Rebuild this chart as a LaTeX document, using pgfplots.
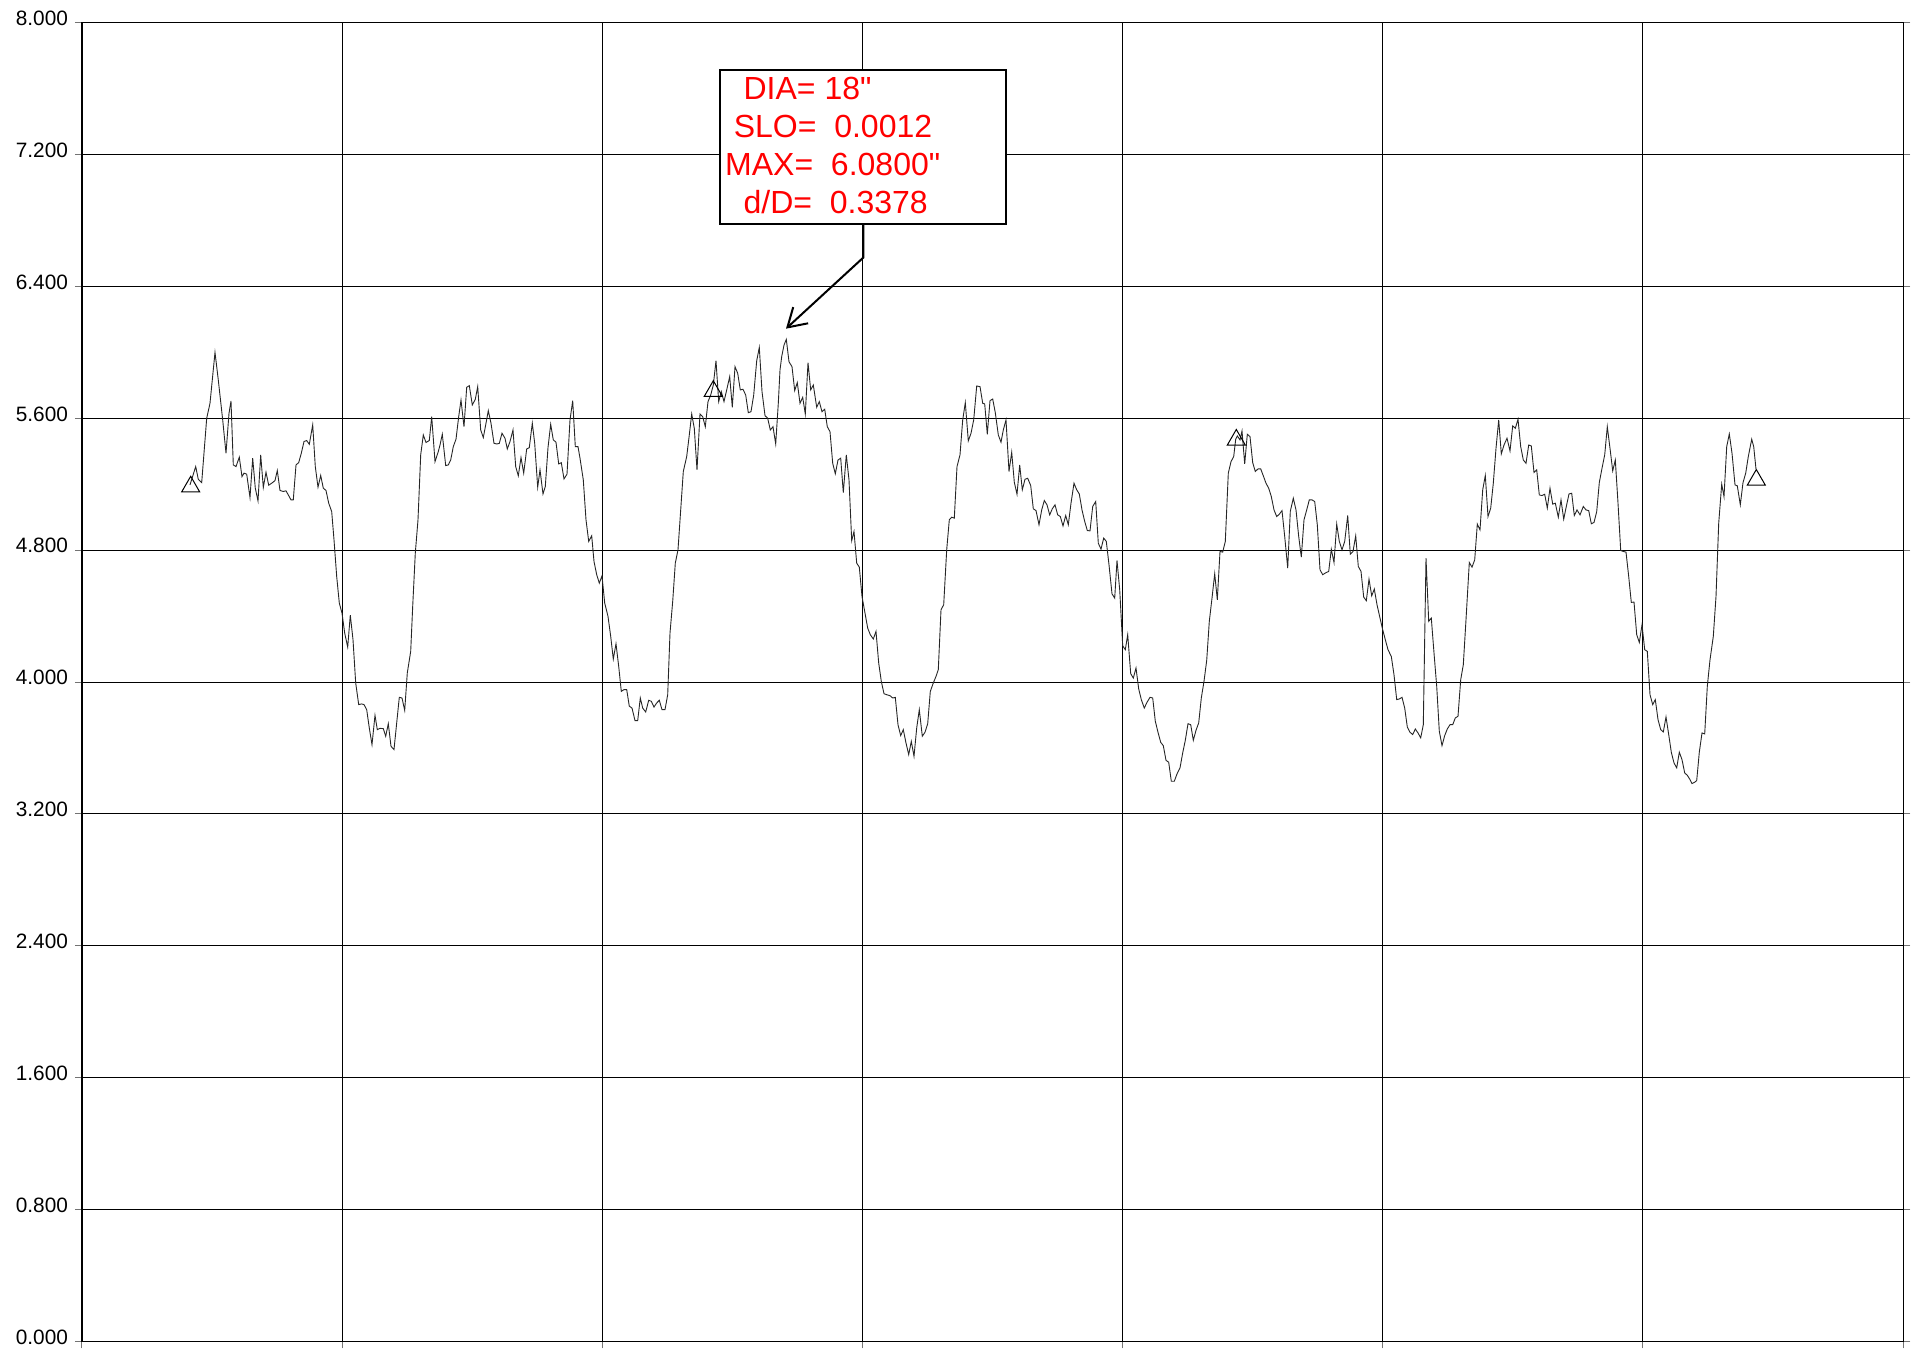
\documentclass[border=0pt]{standalone}
\usepackage{pgfplots}
\pgfplotsset{compat=1.18}
\usepackage{fontspec}
\setmainfont{Liberation Sans}[Ligatures=TeXOff]
\usetikzlibrary{arrows.meta}
\begin{document}
\begin{tikzpicture}
\path[use as bounding box] (-41pt,-7.35pt) rectangle (920.5pt,670.65pt);
\begin{axis}[
  scale only axis,
  width=910.65pt, height=659.3pt,
  xmin=82, xmax=1903.3, ymin=0, ymax=8,
  xtick={82,342.14,602.29,862.43,1122.57,1382.71,1642.86,1903.3},
  xticklabels={},
  ytick={0,0.8,1.6,2.4,3.2,4,4.8,5.6,6.4,7.2,8},
  grid=major,
  grid style={black, line width=0.5pt},
  axis line style={black, line width=0.6pt},
  tick align=outside,
  major tick length=3.5pt,
  xtick pos=bottom,
  ytick pos=both,
  tick style={black!55, line width=0.5pt},
  yticklabel pos=left,
  yticklabel style={font=\fontsize{10.4}{12}\selectfont, yshift=2.2pt},
  /pgf/number format/.cd, fixed, fixed zerofill, precision=3, assume math mode=true,
]
\addplot[black!85, line width=0.45pt] coordinates {
(190,5.196) (195.7,5.307) (198.3,5.230) (201.7,5.210) (206.7,5.600) (210,5.691) (215,6.000) (218.3,5.832) (222.7,5.590) (226,5.388) (229,5.630) (231,5.705) (233.3,5.317) (236,5.307) (239.3,5.364) (242,5.246) (244,5.267) (246.7,5.261) (250,5.119) (252.7,5.358) (255.3,5.176) (258,5.099) (260.7,5.378) (263.3,5.180) (266,5.273) (268.7,5.194) (271.7,5.206) (275,5.222) (277.3,5.283) (280,5.162) (283.3,5.156) (286,5.160) (288.3,5.135) (291,5.105) (293.3,5.105) (296,5.317) (298.7,5.331) (301.3,5.388) (304,5.459) (306.7,5.465) (309.3,5.442) (312.7,5.560) (315.3,5.307) (318,5.182) (320.7,5.253) (323.3,5.176) (326,5.162) (328.7,5.085) (331.7,5.034) (334,4.863) (336.7,4.640) (339.3,4.479) (342,4.418) (344.7,4.297) (347.7,4.212) (350.3,4.406) (353,4.257) (355.7,3.994) (358.7,3.863) (361.7,3.867) (364,3.863) (366.7,3.832) (369.3,3.721) (372,3.620) (375,3.798) (377.3,3.711) (380,3.719)
(383.3,3.717) (385.7,3.671) (388.3,3.747) (391,3.610) (394,3.590) (396.7,3.752) (399.3,3.907) (402,3.903) (404.7,3.828) (407.3,4.055) (410.7,4.186) (412.7,4.459) (415.3,4.782) (418,4.984) (420.7,5.378) (423.3,5.499) (426,5.453) (429.3,5.465) (431.7,5.610) (435,5.337) (438.3,5.398) (440,5.438) (442.3,5.503) (445.7,5.313) (448.3,5.317) (450.7,5.347) (453.3,5.428) (456,5.473) (458.7,5.610) (461,5.711) (464,5.549) (466.7,5.788) (469.3,5.798) (472.3,5.681) (475.3,5.715) (477.7,5.792) (480.7,5.529) (483.3,5.483) (486,5.570) (488.3,5.646) (491,5.570) (494,5.448) (496.7,5.444) (499.3,5.448) (502,5.509) (505,5.479) (507.3,5.414) (510,5.459) (513,5.529) (515.7,5.307) (518.3,5.251) (521,5.362) (523.7,5.267) (526.7,5.414) (529.3,5.422) (532.3,5.570) (534.7,5.448) (537.7,5.182) (540,5.287) (543,5.141) (545.3,5.186) (548,5.422) (550.7,5.564) (553.3,5.469) (556,5.455) (558.7,5.323) (561.3,5.331) (564,5.232) (567,5.261) (570,5.590) (572.7,5.707) (575.3,5.428) (578,5.428) (580,5.358)
(583.3,5.226) (586,4.984) (588.7,4.853) (591.7,4.887) (594,4.731) (596.7,4.651) (599.3,4.600) (602,4.644) (604.7,4.479) (608,4.398) (610.7,4.277) (613.3,4.139) (616,4.232) (618.7,4.095) (621.3,3.943) (624,3.954) (626.7,3.954) (629.3,3.853) (632,3.842) (635,3.766) (637.7,3.766) (640.3,3.903) (642.7,3.842) (645.7,3.818) (648.7,3.889) (651.3,3.883) (654,3.848) (656.7,3.873) (659.3,3.889) (662,3.832) (665,3.832) (667.7,3.923) (670,4.297) (672.7,4.489) (675.3,4.721) (678,4.802) (680.7,5.044) (683.3,5.277) (686.7,5.368) (689.3,5.499) (691.7,5.626) (694.3,5.539) (697,5.287) (700,5.626) (702.7,5.610) (705.3,5.549) (708,5.701) (710.7,5.741) (713.3,5.802) (716,5.949) (718.7,5.701) (721.3,5.762) (724,5.701) (726.7,5.772) (729.7,5.853) (732.3,5.667) (735,5.913) (737.7,5.873) (740.3,5.772) (743,5.776) (745.7,5.741) (748.3,5.634) (751,5.640) (753.7,5.741) (756.7,5.949) (759.3,6.030) (762,5.762) (765,5.616) (767.7,5.600) (770.3,5.529) (773,5.549) (775.7,5.444) (778.3,5.691) (780,5.893)
(781.7,5.974) (784,6.044) (786.3,6.079) (789,5.943) (792,5.913) (794.7,5.768) (797.3,5.816) (800,5.691) (802.7,5.727) (805.3,5.626) (808,5.937) (810.7,5.772) (813.3,5.802) (816.7,5.667) (819.3,5.701) (822,5.640) (824.7,5.655) (827.3,5.549) (830,5.519) (832.7,5.327) (835.3,5.263) (838,5.347) (840.7,5.358) (843.3,5.149) (846.3,5.378) (849,5.226) (851.7,4.857) (854,4.913) (856.7,4.721) (859.3,4.697) (862,4.519) (865,4.418) (867.7,4.327) (870.3,4.287) (873.3,4.261) (876,4.307) (878.7,4.115) (881.3,4.004) (884,3.929) (886.7,3.923) (890,3.917) (892.7,3.903) (895.3,3.907) (898,3.741) (900.7,3.675) (903.3,3.711) (906,3.630) (908.7,3.560) (911.3,3.640) (914,3.549) (916.7,3.721) (919.3,3.832) (922.3,3.671) (925,3.695) (927.7,3.747) (930.3,3.943) (933.3,3.994) (936,4.034) (938.3,4.075) (941,4.438) (943.7,4.469) (946.7,4.802) (949.3,4.984) (951.7,5.000) (954.3,4.994) (957,5.307) (960,5.378) (962.7,5.590) (965.3,5.695) (968.3,5.463) (971,5.509) (973.7,5.590) (976.7,5.796) (980,5.792)
(982.7,5.691) (984.7,5.687) (987.3,5.503) (990,5.707) (992.7,5.717) (995.3,5.634) (998.3,5.499) (1001,5.455) (1003.3,5.529) (1006,5.590) (1009,5.277) (1011.7,5.394) (1014.3,5.212) (1017,5.139) (1019.7,5.317) (1022.3,5.166) (1025,5.230) (1027.7,5.236) (1030.7,5.192) (1033.3,5.051) (1036,5.040) (1039,4.954) (1041.7,5.044) (1044.3,5.101) (1047,5.075) (1049.7,5.014) (1052.3,5.051) (1055,5.075) (1057.7,5.014) (1060.3,5.004) (1063,4.947) (1065.7,5.010) (1068.3,4.954) (1071,5.085) (1074,5.206) (1076.7,5.166) (1079.3,5.141) (1082,5.044) (1084.7,4.974) (1087.3,4.919) (1090,4.917) (1092.7,5.065) (1095.7,5.095) (1098.3,4.842) (1101,4.806) (1103.7,4.873) (1106.3,4.853) (1109,4.711) (1112,4.535) (1114.7,4.509) (1117,4.737) (1119.7,4.560) (1122.7,4.220) (1125.3,4.196) (1127.7,4.287) (1130.7,4.051) (1133.3,4.024) (1136,4.085) (1138.7,3.958) (1141.3,3.893) (1144.3,3.842) (1147,3.877) (1150,3.907) (1152.7,3.903) (1155.3,3.762) (1158,3.695) (1160.7,3.634) (1163.3,3.614) (1166,3.525) (1168.7,3.513) (1171.3,3.398) (1174.3,3.398) (1177,3.442) (1180,3.479)
(1182.7,3.570) (1185.3,3.646) (1188,3.747) (1190.7,3.741) (1193.3,3.646) (1196,3.707) (1198.7,3.752) (1201.3,3.903) (1204,4.004) (1206.7,4.131) (1209.3,4.368) (1212,4.509) (1214.7,4.657) (1217.3,4.499) (1220,4.792) (1222.7,4.788) (1225.3,4.853) (1228.3,5.267) (1231,5.337) (1233.7,5.368) (1235.7,5.473) (1237.3,5.493) (1240,5.469) (1242,5.523) (1244.7,5.323) (1247.3,5.503) (1250,5.489) (1252.7,5.331) (1255.3,5.277) (1258,5.293) (1260.7,5.293) (1263.3,5.251) (1266,5.206) (1268.7,5.176) (1271.3,5.125) (1274,5.044) (1276.7,5.004) (1279.3,5.018) (1282,5.040) (1284.7,4.883) (1287.7,4.691) (1290.3,5.036) (1293.3,5.115) (1296,5.044) (1298.7,4.883) (1301.3,4.758) (1304,4.984) (1306.7,5.044) (1309.3,5.105) (1312,5.105) (1314.7,5.095) (1317.3,4.954) (1320,4.681) (1322.7,4.651) (1325.3,4.661) (1328.7,4.671) (1331.3,4.806) (1334,4.725) (1336.7,4.958) (1339.3,4.853) (1342,4.802) (1344.7,4.853) (1347.7,5.010) (1350.3,4.776) (1353,4.792) (1355.7,4.887) (1358.3,4.701) (1361,4.671) (1363.7,4.515) (1366.3,4.493) (1369,4.624) (1371.7,4.523) (1374.3,4.564) (1377,4.469) (1380,4.388)
(1382.7,4.317) (1385.3,4.257) (1388,4.196) (1391.3,4.155) (1394,4.044) (1396.7,3.893) (1399.3,3.897) (1402,3.907) (1404.7,3.842) (1407.3,3.727) (1410,3.695) (1412.7,3.681) (1415.3,3.715) (1418,3.691) (1420.7,3.661) (1423.3,3.741) (1426,4.752) (1428.7,4.368) (1431.3,4.388) (1434,4.176) (1436.7,3.974) (1439.3,3.701) (1442,3.614) (1444.7,3.675) (1447.3,3.715) (1450,3.741) (1452.7,3.741) (1455.3,3.782) (1458,3.792) (1460.7,4.014) (1463.3,4.105) (1466,4.378) (1469.3,4.725) (1472,4.697) (1474.7,4.741) (1477.3,4.958) (1480,4.923) (1482.7,5.166) (1485.3,5.253) (1488,5.004) (1490.7,5.055) (1493.3,5.206) (1496,5.418) (1498.7,5.590) (1501.3,5.384) (1504,5.438) (1507,5.479) (1510,5.402) (1512.7,5.554) (1515.3,5.539) (1518,5.594) (1520.7,5.428) (1523.3,5.347) (1526,5.327) (1528.7,5.438) (1531.3,5.432) (1534,5.271) (1536.7,5.287) (1539.3,5.135) (1542,5.131) (1544.7,5.139) (1547.3,5.055) (1550,5.176) (1552.7,5.079) (1555.3,5.085) (1558.3,5.000) (1561,5.105) (1563.7,4.988) (1566.3,5.065) (1569,5.141) (1571.7,5.145) (1574.3,5.010) (1577,5.044) (1580,5.014)
(1583.3,5.065) (1586,5.044) (1588.7,5.040) (1591.3,4.960) (1594,4.968) (1596.7,5.034) (1599.3,5.210) (1602,5.297) (1604.7,5.378) (1607.3,5.549) (1610,5.418) (1612.7,5.281) (1615.3,5.347) (1618,5.085) (1620.7,4.798) (1623.3,4.792) (1626,4.788) (1628.7,4.640) (1631.3,4.483) (1634,4.485) (1636.7,4.287) (1639.3,4.240) (1642,4.347) (1644.7,4.196) (1647.3,4.186) (1650,3.923) (1652.7,3.863) (1655.3,3.893) (1658,3.772) (1660.7,3.711) (1663.3,3.697) (1666,3.788) (1668.7,3.681) (1671.3,3.574) (1674,3.509) (1676.7,3.479) (1679.3,3.574) (1682,3.529) (1684.7,3.448) (1687.3,3.434) (1690,3.408) (1692,3.384) (1694.7,3.392) (1696.7,3.402) (1699.3,3.574) (1702,3.691) (1704.7,3.685) (1707.3,3.974) (1710,4.135) (1713.3,4.277) (1716,4.519) (1718.7,4.964) (1721.7,5.200) (1724,5.125) (1726.7,5.428) (1729.3,5.505) (1732,5.388) (1735,5.196) (1737.3,5.190) (1740.3,5.075) (1743,5.210) (1745.7,5.267) (1748.3,5.368) (1751.7,5.473) (1753.7,5.428) (1756,5.291)
};
\addplot[only marks, mark=triangle, mark size=5.2pt, mark options={black, line width=0.5pt, fill=none}] coordinates {
(190.7,5.185) (713.3,5.765) (1236.3,5.469) (1756.3,5.226)
};
\end{axis}
\draw[line width=1.2pt, black, fill=white] (319pt,558.65pt) rectangle (462pt,635.65pt);
\begin{scope}[every node/.style={anchor=base west, inner sep=0pt, text=red, font=\fontsize{16}{19}\selectfont}]
\node at (330.6pt,621pt) {DIA= 18"};
\node at (325.7pt,602pt) {SLO=\ \ 0.0012};
\node at (321.4pt,583pt) {MAX=\ \ 6.0800"};
\node at (330.6pt,564pt) {d/D=\ \ 0.3378};
\end{scope}
\draw[line width=1pt, black, -{Straight Barb[length=9pt,width=11pt]}] (390.7pt,558.65pt) -- (390.7pt,541.9pt) -- (352pt,506.3pt);
\end{tikzpicture}
\end{document}
